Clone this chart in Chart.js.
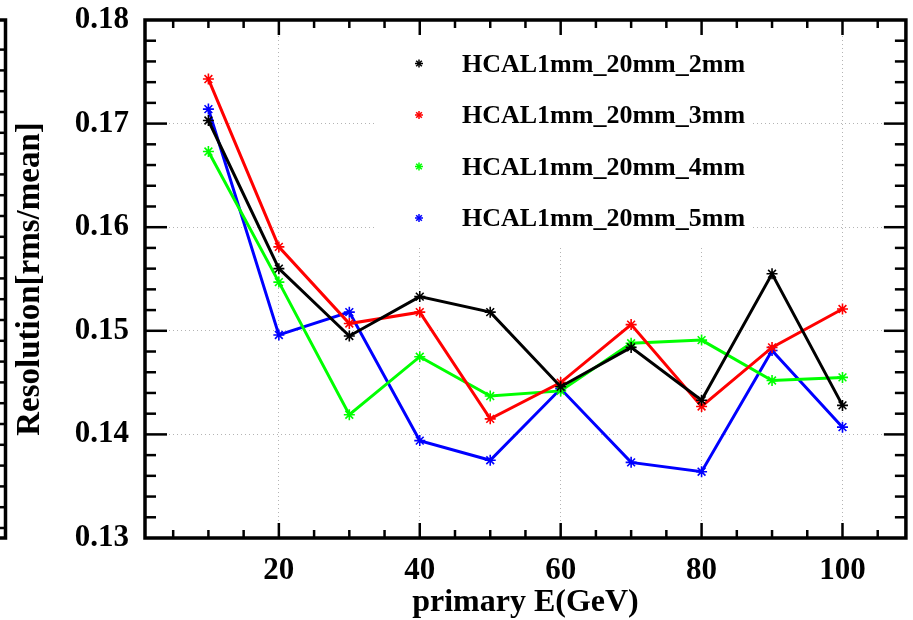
<!DOCTYPE html>
<html>
<head>
<meta charset="utf-8">
<title>HCAL resolution</title>
<script src="https://cdn.jsdelivr.net/npm/chart.js@4.4.1/dist/chart.umd.min.js"></script>
<style>
  html, body { margin: 0; padding: 0; background: #fff; }
</style>
</head>
<body>
<canvas id="resChart" width="913" height="620"></canvas>
<script>
// Beam energies (GeV)
const energies = [10, 20, 30, 40, 50, 60, 70, 80, 90, 100];

// Resolution (rms/mean) per layer thickness
const res2mm = [0.1703, 0.1560, 0.1495, 0.1533, 0.1518, 0.1446, 0.1484, 0.1433, 0.1555, 0.1428];
const res3mm = [0.1743, 0.1581, 0.1507, 0.1518, 0.1415, 0.1450, 0.1506, 0.1427, 0.1484, 0.1521];
const res4mm = [0.1673, 0.1547, 0.1419, 0.1475, 0.1437, 0.1442, 0.1488, 0.1491, 0.1452, 0.1455];
const res5mm = [0.1714, 0.1496, 0.1518, 0.1394, 0.1375, 0.1444, 0.1373, 0.1364, 0.1481, 0.1407];

const seriesNames = ["HCAL1mm_20mm_2mm", "HCAL1mm_20mm_3mm", "HCAL1mm_20mm_4mm", "HCAL1mm_20mm_5mm"];
const seriesColors = ["#000000", "#ff0000", "#00ff00", "#0000ff"];

// Axis ticks
const xTicks = [20, 40, 60, 80, 100];
const yTicks = [0.13, 0.14, 0.15, 0.16, 0.17, 0.18];

const serif = "'Liberation Serif', 'Times New Roman', serif";

const datasets = [res2mm, res3mm, res4mm, res5mm].map((vals, i) => ({
    label: seriesNames[i],
    data: energies.map((e, j) => ({ x: e, y: vals[j] })),
    showLine: true,
    borderColor: seriesColors[i],
    backgroundColor: seriesColors[i],
    borderWidth: 3,
    pointStyle: "star",
    pointRadius: 5.5,
    pointBorderWidth: 1.6,
    pointBorderColor: seriesColors[i],
    tension: 0
}));

function line(ctx, x1, y1, x2, y2) {
    ctx.beginPath();
    ctx.moveTo(x1, y1);
    ctx.lineTo(x2, y2);
    ctx.stroke();
}

function star(ctx, x, y, r, color) {
    ctx.strokeStyle = color;
    ctx.lineWidth = 1.5;
    line(ctx, x - r, y, x + r, y);
    line(ctx, x, y - r, x, y + r);
    const d = r * Math.SQRT1_2;
    line(ctx, x - d, y - d, x + d, y + d);
    line(ctx, x - d, y + d, x + d, y - d);
}

// Legend box, opaque so it hides the grid behind it
const boxLegend = {
    id: "boxLegend",
    beforeDatasetsDraw(chart) {
        const ctx = chart.ctx;
        ctx.save();
        ctx.fillStyle = "#fff";
        ctx.fillRect(375, 28, 375, 217);
        chart.data.datasets.forEach((ds, i) => {
            const yy = 63.5 + i * 51.5;
            star(ctx, 419, yy, 4, ds.borderColor);
            ctx.fillStyle = "#000";
            ctx.font = "bold 26px " + serif;
            ctx.textBaseline = "alphabetic";
            ctx.textAlign = "left";
            ctx.fillText(ds.label, 462, yy + 8.3);
        });
        ctx.restore();
    }
};

// Frame with inward ticks on all four sides
const frameTicks = {
    id: "frameTicks",
    afterDraw(chart) {
        const { ctx, chartArea: a, scales: { x, y } } = chart;
        ctx.save();
        ctx.strokeStyle = "#000";
        ctx.lineWidth = 2.5;
        for (let v = 5; v < x.max; v += 5) {
            const px = x.getPixelForValue(v);
            const len = v % 20 === 0 ? 15 : 8;
            line(ctx, px, a.bottom, px, a.bottom - len);
            line(ctx, px, a.top, px, a.top + len);
        }
        for (let i = 1; i < 25; i++) {
            const py = y.getPixelForValue(y.min + i * 0.002);
            const len = i % 5 === 0 ? 22 : 11;
            line(ctx, a.left, py, a.left + len, py);
            line(ctx, a.right, py, a.right - len, py);
        }
        ctx.lineWidth = 3.5;
        ctx.strokeRect(a.left, a.top, a.right - a.left, a.bottom - a.top);

        // edge of the neighbouring pad on the far left
        ctx.beginPath();
        ctx.moveTo(0, a.top);
        ctx.lineTo(5.5, a.top);
        ctx.lineTo(5.5, a.bottom);
        ctx.lineTo(0, a.bottom);
        ctx.stroke();
        ctx.lineWidth = 2.5;
        for (let py = a.bottom - 10; py > a.top + 10; py -= 20.8) {
            line(ctx, 0, py, 5, py);
        }
        ctx.restore();
    }
};

const ctx = document.getElementById("resChart").getContext("2d");

new Chart(ctx, {
    type: "scatter",
    data: { datasets: datasets },
    plugins: [boxLegend, frameTicks],
    options: {
        responsive: false,
        animation: false,
        devicePixelRatio: 1,
        layout: { padding: { top: 20, right: 6, bottom: 0, left: 0 } },
        plugins: {
            legend: { display: false },
            tooltip: { enabled: false }
        },
        scales: {
            x: {
                type: "linear",
                min: 1,
                max: 109,
                afterBuildTicks: s => { s.ticks = xTicks.map(v => ({ value: v })); },
                afterFit: s => { s.height = 82; s.paddingLeft = 0; s.paddingRight = 0; },
                grid: { color: "#b4b4b4", lineWidth: 1, drawTicks: false },
                border: { display: false, dash: [1, 3] },
                ticks: {
                    autoSkip: false,
                    maxRotation: 0,
                    padding: 14,
                    color: "#000",
                    font: { family: serif, size: 31, weight: "bold" },
                    callback: v => v
                },
                title: {
                    display: true,
                    text: "primary E(GeV)",
                    color: "#000",
                    font: { family: serif, size: 32, weight: "bold", lineHeight: 1 },
                    padding: { top: 0, bottom: 1 }
                }
            },
            y: {
                type: "linear",
                min: 0.13,
                max: 0.18,
                afterBuildTicks: s => { s.ticks = yTicks.map(v => ({ value: v })); },
                afterFit: s => { s.width = 145; s.paddingTop = 0; s.paddingBottom = 0; },
                grid: { color: "#b4b4b4", lineWidth: 1, drawTicks: false },
                border: { display: false, dash: [1, 3] },
                ticks: {
                    padding: 16,
                    color: "#000",
                    font: { family: serif, size: 31, weight: "bold" },
                    callback: v => v.toFixed(2)
                },
                title: {
                    display: true,
                    text: "Resolution[rms/mean]",
                    color: "#000",
                    font: { family: serif, size: 33, weight: "bold", lineHeight: 1 },
                    padding: { top: 14, bottom: 0 }
                }
            }
        }
    }
});
</script>
</body>
</html>
